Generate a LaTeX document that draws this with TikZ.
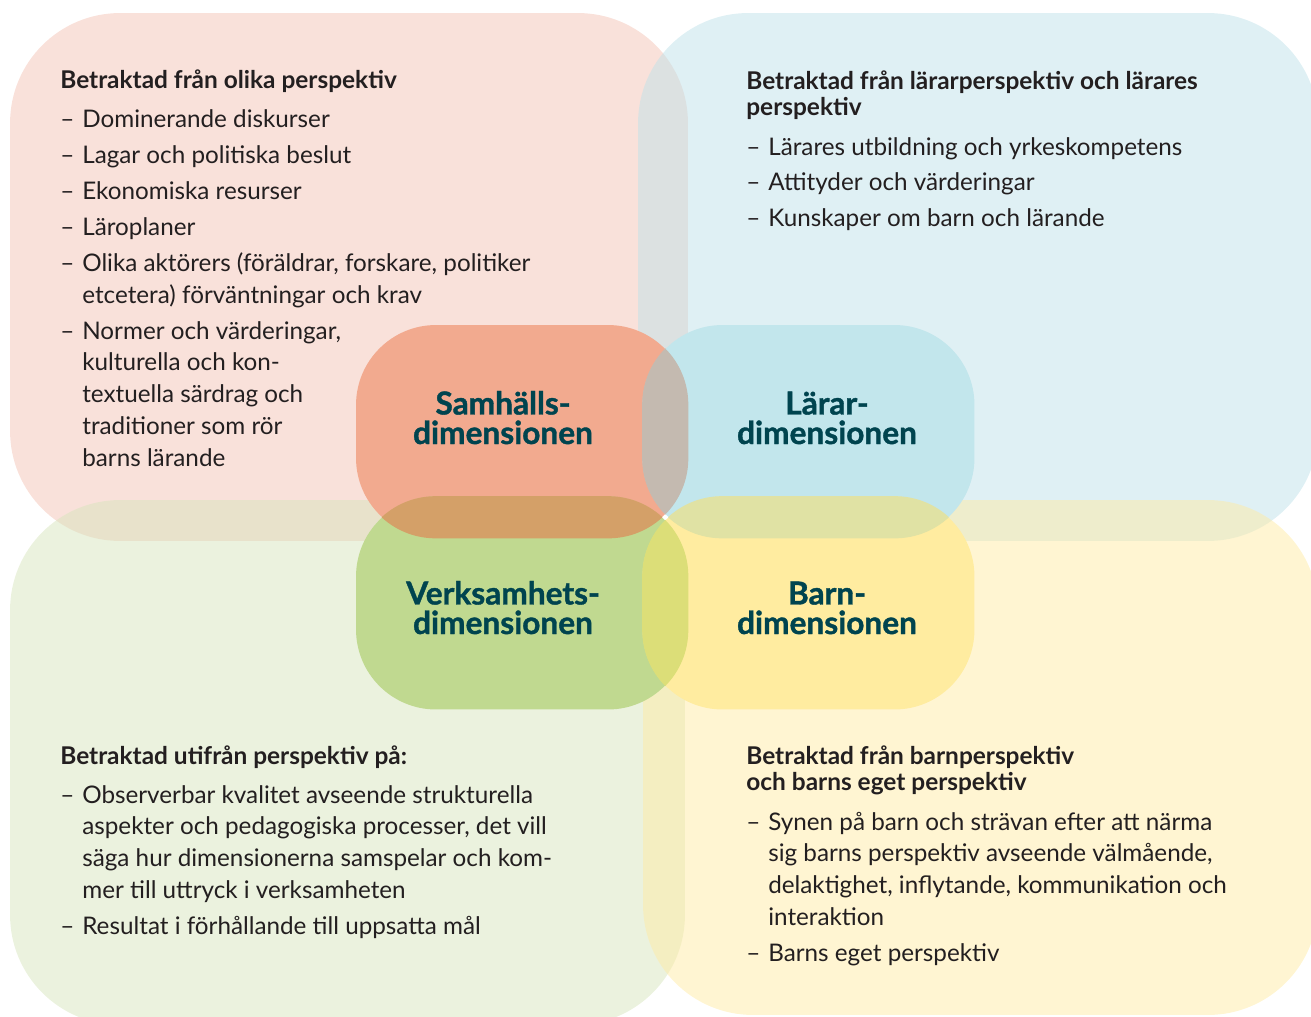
\documentclass[tikz,border=0pt]{standalone}
\usepackage{fontspec}
\setmainfont{Lato}
\newfontfamily\dimfont{Lato}[BoldFeatures={FakeBold=1.2}]
\definecolor{samhbg}{RGB}{243,195,181}
\definecolor{lararbg}{RGB}{191,225,233}
\definecolor{verkbg}{RGB}{215,229,189}
\definecolor{barnbg}{RGB}{255,235,165}
\definecolor{samhfill}{RGB}{242,170,143}
\definecolor{lararfill}{RGB}{194,230,236}
\definecolor{verkfill}{RGB}{192,217,144}
\definecolor{barnfill}{RGB}{255,236,160}
\definecolor{samhlarar}{RGB}{196,186,176}
\definecolor{samhverk}{RGB}{212,160,104}
\definecolor{lararbarn}{RGB}{224,226,164}
\definecolor{verkbarn}{RGB}{220,222,120}
\definecolor{allfour}{RGB}{218,204,128}
\definecolor{dimtext}{RGB}{0,68,79}
\definecolor{bodytext}{RGB}{35,31,32}

\begin{document}
\begin{tikzpicture}[x=0.02cm,y=-0.02cm,
    bigbox/.style={rectangle,rounded corners=2.2cm,fill opacity=0.5,inner sep=0pt},
    dimbox/.style={rectangle,rounded corners=1.6cm,inner sep=0pt,
        minimum width=6.64cm,minimum height=4.26cm},
    dimpath/.style={rounded corners=1.6cm},
    dimlabel/.style={anchor=base,align=center,text=dimtext,
        font=\fontsize{18pt}{16.8pt}\selectfont\dimfont\bfseries},
    head/.style={anchor=base west,align=left,inner sep=0pt,text=bodytext,
        font=\fontsize{13.9pt}{14.7pt}\selectfont\bfseries},
    list/.style={anchor=base west,inner sep=0pt,text=bodytext,
        font=\fontsize{13.8pt}{18.1pt}\selectfont}]
    \useasboundingbox (0,0) rectangle (1311,1017);
    \clip (0,0) rectangle (1311,1017);

    \node[bigbox,fill=samhbg,minimum width=13.56cm,minimum height=10.56cm] (samhbig) at (349,277) {};
    \node[bigbox,fill=lararbg,minimum width=13.6cm,minimum height=10.56cm] (lararbig) at (978,277) {};
    \node[bigbox,fill=verkbg,minimum width=13.5cm,minimum height=10.5cm] (verkbig) at (347.5,762.5) {};
    \node[bigbox,fill=barnbg,minimum width=13.5cm,minimum height=10.3cm] (barnbig) at (980.5,757.5) {};

    \node[dimbox,fill=samhfill] (samh) at (522,431.5) {};
    \node[dimbox,fill=lararfill] (larar) at (808.5,431.5) {};
    \node[dimbox,fill=verkfill] (verk) at (522,603) {};
    \node[dimbox,fill=barnfill] (barn) at (808.5,603) {};

    \begin{scope}
        \clip[dimpath] (samh.south west) rectangle (samh.north east);
        \fill[dimpath,samhlarar] (larar.south west) rectangle (larar.north east);
        \fill[dimpath,samhverk] (verk.south west) rectangle (verk.north east);
    \end{scope}
    \begin{scope}
        \clip[dimpath] (barn.south west) rectangle (barn.north east);
        \fill[dimpath,lararbarn] (larar.south west) rectangle (larar.north east);
        \fill[dimpath,verkbarn] (verk.south west) rectangle (verk.north east);
    \end{scope}
    \begin{scope}
        \clip[dimpath] (samh.south west) rectangle (samh.north east);
        \clip[dimpath] (larar.south west) rectangle (larar.north east);
        \clip[dimpath] (verk.south west) rectangle (verk.north east);
        \fill[dimpath,allfour] (barn.south west) rectangle (barn.north east);
    \end{scope}

    \node[dimlabel] (samhlabel) at (503,444) {Samhälls-\\dimensionen};
    \node[dimlabel] (lararlabel) at (827,444) {Lärar-\\dimensionen};
    \node[dimlabel] (verklabel) at (503,634) {Verksamhets-\\dimensionen};
    \node[dimlabel] (barnlabel) at (827,634) {Barn-\\dimensionen};

    \node[head] (samhhead) at (60,89) {Betraktad från olika perspektiv};
    \node[list] (samhlist) at (60,128) {\begin{tabular}[t]{@{}p{12.5pt}@{}l@{}}
        – & Dominerande diskurser\\[2.3pt]
        – & Lagar och politiska beslut\\[2.3pt]
        – & Ekonomiska resurser\\[2.3pt]
        – & Läroplaner\\[2.3pt]
        – & Olika aktörers (föräldrar, forskare, politiker\\
          & etcetera) förväntningar och krav\\[2.3pt]
        – & Normer och värderingar,\\
          & kulturella och kon-\\
          & textuella särdrag och\\
          & traditioner som rör\\
          & barns lärande
    \end{tabular}};

    \node[head] (lararhead) at (746,115) {Betraktad från lärarperspektiv och lärares\\perspektiv};
    \node[list] (lararlist) at (746,155) {\begin{tabular}[t]{@{}p{12.5pt}@{}l@{}}
        – & Lärares utbildning och yrkeskompetens\\[2.3pt]
        – & Attityder och värderingar\\[2.3pt]
        – & Kunskaper om barn och lärande
    \end{tabular}};

    \node[head] (verkhead) at (60,764) {Betraktad utifrån perspektiv på:};
    \node[list] (verklist) at (60,803) {\begin{tabular}[t]{@{}p{12.5pt}@{}l@{}}
        – & Observerbar kvalitet avseende strukturella\\
          & aspekter och pedagogiska processer, det vill\\
          & säga hur dimensionerna samspelar och kom-\\
          & mer till uttryck i verksamheten\\[2.3pt]
        – & Resultat i förhållande till uppsatta mål
    \end{tabular}};

    \node[head] (barnhead) at (746,790) {Betraktad från barnperspektiv\\och barns eget perspektiv};
    \node[list] (barnlist) at (746,830) {\begin{tabular}[t]{@{}p{12.5pt}@{}l@{}}
        – & Synen på barn och strävan efter att närma\\
          & sig barns perspektiv avseende välmående,\\
          & delaktighet, inflytande, kommunikation och\\
          & interaktion\\[2.3pt]
        – & Barns eget perspektiv
    \end{tabular}};
\end{tikzpicture}
\end{document}
